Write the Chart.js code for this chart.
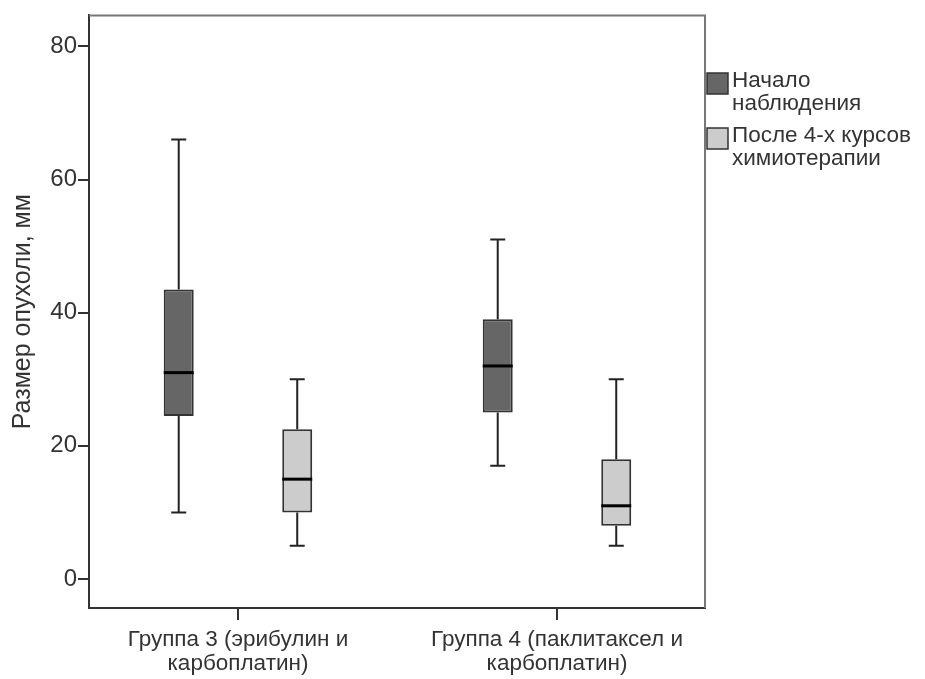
<!DOCTYPE html>
<html>
<head>
<meta charset="utf-8">
<script src="https://cdn.jsdelivr.net/npm/chart.js@4.4.1/dist/chart.umd.min.js"></script>
<style>
  html, body { margin: 0; padding: 0; background: #fff; }
  canvas { display: block; }
</style>
</head>
<body>
<canvas id="tumorBoxChart" width="925" height="679"></canvas>
<script>
    // groups and box statistics (tumour size, mm)
    var groups = [['Группа 3 (эрибулин и', 'карбоплатин)'], ['Группа 4 (паклитаксел и', 'карбоплатин)']];
    var seriesNames = [['Начало', 'наблюдения'], ['После 4-х курсов', 'химиотерапии']];
    var seriesColors = ['#666666', '#cccccc'];

    var startMin = [10, 17];
    var startQ1 = [24.5, 25];
    var startMedian = [31, 32];
    var startQ3 = [43.5, 39];
    var startMax = [66, 51];

    var afterMin = [5, 5];
    var afterQ1 = [10, 8];
    var afterMedian = [15, 11];
    var afterQ3 = [22.5, 18];
    var afterMax = [30, 30];

    var yTicks = [0, 20, 40, 60, 80];

    var axisColor = '#333333';
    var textColor = '#333333';
    var fontFamily = '"Liberation Sans", Arial, sans-serif';

    function boxData(q1, q3) {
        return q1.map(function (v, i) { return { x: i + 1, y: [v, q3[i]] }; });
    }

    var stats = [
        { min: startMin, median: startMedian, max: startMax },
        { min: afterMin, median: afterMedian, max: afterMax }
    ];

    // whiskers, medians, frame and legend
    var boxExtras = {
        id: 'boxExtras',
        afterDatasetsDraw: function (chart) {
            var c = chart.ctx;
            var ys = chart.scales.y;
            c.save();
            chart.data.datasets.forEach(function (ds, di) {
                var meta = chart.getDatasetMeta(di);
                var s = stats[di];
                meta.data.forEach(function (bar, i) {
                    var props = bar.getProps(['x', 'y', 'base', 'width']);
                    var top = Math.min(props.y, props.base);
                    var bottom = Math.max(props.y, props.base);
                    var x = props.x;
                    var yMax = ys.getPixelForValue(s.max[i]);
                    var yMin = ys.getPixelForValue(s.min[i]);
                    var yMed = ys.getPixelForValue(s.median[i]);
                    c.strokeStyle = '#222222';
                    c.lineWidth = 2;
                    c.beginPath();
                    c.moveTo(x, top); c.lineTo(x, yMax);
                    c.moveTo(x - 7.5, yMax); c.lineTo(x + 7.5, yMax);
                    c.moveTo(x, bottom); c.lineTo(x, yMin);
                    c.moveTo(x - 7.5, yMin); c.lineTo(x + 7.5, yMin);
                    c.stroke();
                    c.strokeStyle = '#000000';
                    c.lineWidth = 3;
                    c.beginPath();
                    c.moveTo(x - props.width / 2, yMed);
                    c.lineTo(x + props.width / 2, yMed);
                    c.stroke();
                });
            });

            var a = chart.chartArea;
            c.strokeStyle = '#777777';
            c.lineWidth = 2;
            c.beginPath();
            c.moveTo(a.left, a.top);
            c.lineTo(a.right, a.top);
            c.lineTo(a.right, a.bottom);
            c.stroke();

            c.font = '22.5px ' + fontFamily;
            c.textBaseline = 'alphabetic';
            var lx = a.right + 2;
            var tops = [73, 128];
            chart.data.datasets.forEach(function (ds, di) {
                var t = tops[di];
                c.fillStyle = ds.backgroundColor;
                c.fillRect(lx, t, 21, 21);
                c.strokeStyle = axisColor;
                c.lineWidth = 1.5;
                c.strokeRect(lx, t, 21, 21);
                c.fillStyle = textColor;
                seriesNames[di].forEach(function (line, li) {
                    c.fillText(line, lx + 25, t + 14 + li * 23);
                });
            });
            c.restore();
        }
    };

    var ctx = document.getElementById('tumorBoxChart').getContext('2d');

    var tumorBoxChart = new Chart(ctx, {
        type: 'bar',
        data: {
            datasets: [{
                label: seriesNames[0].join(' '),
                data: boxData(startQ1, startQ3),
                backgroundColor: seriesColors[0],
                borderColor: axisColor,
                borderWidth: 2,
                borderSkipped: false,
                categoryPercentage: 0.743,
                barPercentage: 0.253
            }, {
                label: seriesNames[1].join(' '),
                data: boxData(afterQ1, afterQ3),
                backgroundColor: seriesColors[1],
                borderColor: axisColor,
                borderWidth: 2,
                borderSkipped: false,
                categoryPercentage: 0.743,
                barPercentage: 0.253
            }]
        },
        options: {
            responsive: false,
            animation: false,
            layout: {
                padding: { top: 15, right: 220, left: 0, bottom: 0 }
            },
            plugins: {
                legend: { display: false },
                tooltip: { enabled: false }
            },
            scales: {
                x: {
                    type: 'linear',
                    offset: false,
                    min: 0.533,
                    max: 2.464,
                    afterBuildTicks: function (scale) {
                        scale.ticks = groups.map(function (g, i) { return { value: i + 1 }; });
                    },
                    afterFit: function (scale) { scale.height = 71; },
                    ticks: {
                        callback: function (value) { return groups[value - 1] || ''; },
                        color: textColor,
                        font: { family: fontFamily, size: 22.5, lineHeight: 1.07 },
                        padding: 8,
                        maxRotation: 0,
                        autoSkip: false
                    },
                    grid: {
                        offset: false,
                        drawOnChartArea: false,
                        color: axisColor,
                        lineWidth: 2,
                        tickLength: 12
                    },
                    border: { display: true, color: axisColor, width: 2 }
                },
                y: {
                    min: -4.35,
                    max: 84.65,
                    afterBuildTicks: function (scale) {
                        scale.ticks = yTicks.map(function (v) { return { value: v }; });
                    },
                    afterFit: function (scale) { scale.width = 89; },
                    ticks: {
                        color: textColor,
                        font: { family: fontFamily, size: 24 },
                        padding: 1
                    },
                    grid: {
                        drawOnChartArea: false,
                        color: axisColor,
                        lineWidth: 2,
                        tickLength: 11
                    },
                    border: { display: true, color: axisColor, width: 2 },
                    title: {
                        display: true,
                        text: 'Размер опухоли, мм',
                        color: textColor,
                        font: { family: fontFamily, size: 25 },
                        padding: { top: 8, bottom: 4 }
                    }
                }
            }
        },
        plugins: [boxExtras]
    });
</script>
</body>
</html>
